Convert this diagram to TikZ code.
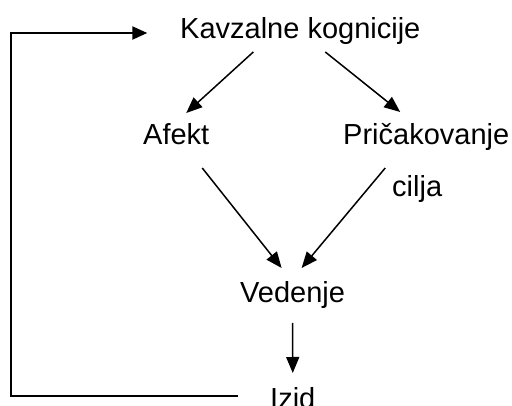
\documentclass[tikz,border=0pt]{standalone}
\usepackage{fontspec}
\setmainfont{Liberation Sans}
\usetikzlibrary{arrows.meta,calc}
\begin{document}
\begin{tikzpicture}[x=1pt,y=-1pt,
  lbl/.style={inner sep=0pt,anchor=base west,font=\fontsize{29}{29}\selectfont},
  arr/.style={line width=1.5pt,-{Triangle[length=16pt,width=13pt]}},
  fb/.style={line width=2.2pt,-{Triangle[length=15pt,width=13pt]}}]
\useasboundingbox (0,0) rectangle (512,406);
\clip (0,0) rectangle (512,406);
\node[lbl] (K) at (180,39) {Kavzalne kognicije};
\node[lbl] (A) at (143,145) {Afekt};
\node[lbl] (P) at (343,145) {Pričakovanje};
\node[lbl] (C) at (392,197) {cilja};
\node[lbl] (V) at (240,303) {Vedenje};
\node[lbl] (I) at (270,408) {Izid};
\draw[arr] ($(K.base)+(-47,13)$) -- ($(A.base)+(10,-32)$);
\draw[arr] ($(K.base)+(25,13)$) -- ($(P.base)+(-26,-33)$);
\draw[arr] ($(A.base)+(26,23)$) -- ($(V.base)+(-11,-35)$);
\draw[arr] ($(P.base)+(-41,23)$) -- ($(V.base)+(9,-35)$);
\draw[arr] ($(V.base)+(0,20)$) -- ($(I.base)+(0,-35)$);
\draw[fb] ($(I.base)+(-55,-12)$) -- ++(-227,0) |- ($(K.base)+(-153,-6)$);
\end{tikzpicture}
\end{document}
